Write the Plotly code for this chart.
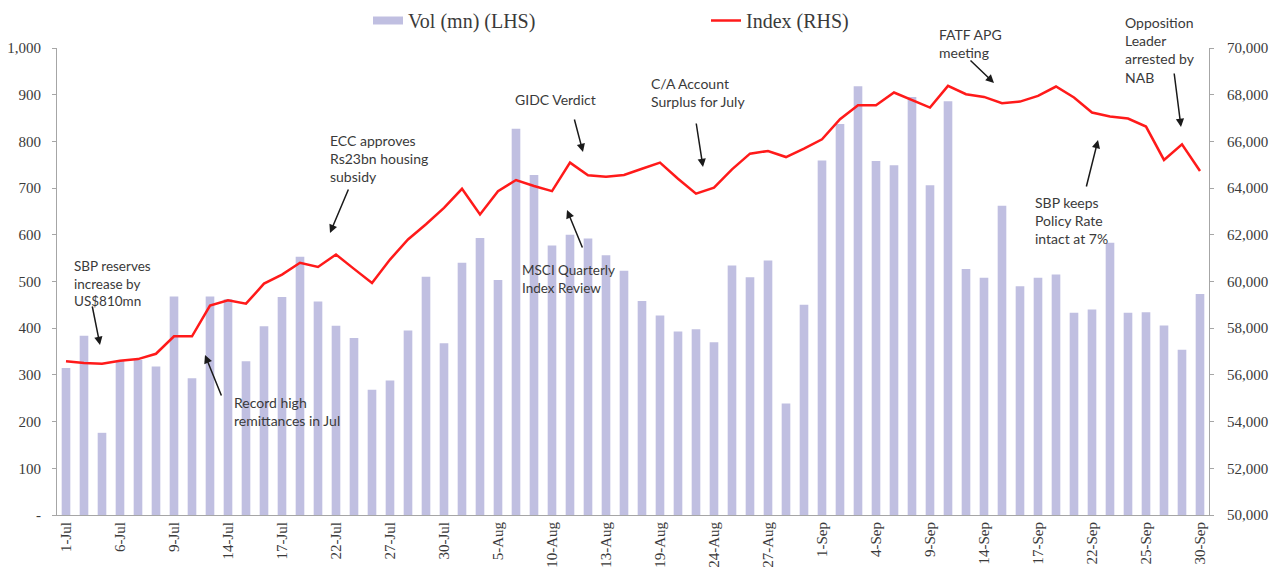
import plotly.graph_objects as go

dates = ["1-Jul","2-Jul","3-Jul","6-Jul","7-Jul","8-Jul","9-Jul","10-Jul","13-Jul","14-Jul","15-Jul",
         "16-Jul","17-Jul","20-Jul","21-Jul","22-Jul","23-Jul","24-Jul","27-Jul","28-Jul","29-Jul","30-Jul",
         "3-Aug","4-Aug","5-Aug","6-Aug","7-Aug","10-Aug","11-Aug","12-Aug","13-Aug","17-Aug","18-Aug",
         "19-Aug","20-Aug","21-Aug","24-Aug","25-Aug","26-Aug","27-Aug","28-Aug","31-Aug",
         "1-Sep","2-Sep","3-Sep","4-Sep","7-Sep","8-Sep","9-Sep","10-Sep","11-Sep","14-Sep","15-Sep",
         "16-Sep","17-Sep","18-Sep","21-Sep","22-Sep","23-Sep","24-Sep","25-Sep","28-Sep","29-Sep","30-Sep"]

volume = [315, 384, 176, 330, 332, 318, 468, 293, 468, 462, 329, 404, 467, 553, 457, 405, 379, 268, 288, 395, 510,
          368, 540, 593, 503, 827, 728, 577, 600, 592, 556, 523, 458, 427, 393, 398, 370, 534, 509, 545, 239, 450, 759, 837,
          918, 758, 749, 895, 706, 886, 527, 508, 662, 490, 508, 515, 433, 440, 583, 433, 434, 406, 354, 473]

index_vals = [56580, 56505, 56476, 56605, 56677, 56905, 57650, 57650, 58965, 59195, 59050, 59910, 60295, 60800,
              60625, 61155, 60540, 59940, 60940, 61800, 62450,
              63155, 63970, 62870, 63870, 64345, 64090, 63870, 65090, 64545, 64490, 64560, 64830, 65090, 64400,
              63760, 64015, 64800, 65475, 65590, 65330, 65690, 66090, 66950,
              67550, 67550, 68095, 67780, 67450, 68380, 68020, 67905, 67635, 67705, 67950, 68350, 67880, 67235,
              67065, 66980, 66635, 65205, 65875, 64730]

tick_dates = dates[::3]

left_ticks = [0, 100, 200, 300, 400, 500, 600, 700, 800, 900, 1000]
left_labels = ["-", "100", "200", "300", "400", "500", "600", "700", "800", "900", "1,000"]
right_ticks = [50000, 52000, 54000, 56000, 58000, 60000, 62000, 64000, 66000, 68000, 70000]
right_labels = ["50,000", "52,000", "54,000", "56,000", "58,000", "60,000", "62,000", "64,000",
                "66,000", "68,000", "70,000"]

# annotation texts: (lines, left px, vertical centre px, font size)  -- page pixels
notes = [
    (["SBP reserves", "increase by", "US$810mn"], 72, 283, 13.5),
    (["Record high", "remittances in Jul"], 232, 411, 14),
    (["ECC approves", "Rs23bn housing", "subsidy"], 328, 158, 14),
    (["GIDC Verdict"], 513, 99, 14),
    (["MSCI Quarterly", "Index Review"], 520, 279, 13.5),
    (["C/A Account", "Surplus for July"], 649, 92, 14),
    (["FATF APG", "meeting"], 937, 44, 14),
    (["SBP keeps", "Policy Rate", "intact at 7%"], 1033, 220, 14),
    (["Opposition", "Leader", "arrested by", "NAB"], 1123, 50, 14),
]
# arrows: (tail px, tail py, head px, head py) -- page pixels
arrows = [
    (92, 305, 100, 345),
    (222, 397, 205, 355),
    (349, 188, 330, 233),
    (574, 118, 583, 152),
    (583, 249, 567, 210),
    (696, 122, 703, 167),
    (969, 59, 994, 83),
    (1086, 188, 1098, 140),
    (1174, 72, 1181, 127),
]

OFF = 8  # page body margin
PAGE_W, PAGE_H = 1277, 567
L, R, T, B = 57, 1209, 48, 515  # plot area in page pixels
W, H = R - L, B - T
FIG_W, FIG_H = PAGE_W - OFF, PAGE_H - OFF


def paper(px, py):
    return (px - L) / W, (B - py) / H


BAR_COL = "#c0bfe1"
RED = "#ff1a1a"
SERIF = "Liberation Serif"
SANS = "Lato"
TXT = "#3a3a3a"

fig = go.Figure()
fig.add_trace(go.Bar(x=dates, y=volume, marker=dict(color=BAR_COL, line=dict(width=0)),
                     name="Vol (mn) (LHS)", showlegend=False, yaxis="y"))
fig.add_trace(go.Scatter(x=[None], y=[None], mode="lines", line=dict(color=BAR_COL, width=8),
                         name="Vol (mn) (LHS)", legend="legend"))
fig.add_trace(go.Scatter(x=dates, y=index_vals, mode="lines", line=dict(color=RED, width=2.5),
                         name="Index (RHS)", yaxis="y2", legend="legend2"))

annotations = []
for lines, px, py, fs in notes:
    x, y = paper(px, py)
    annotations.append(dict(x=x, y=y, xref="paper", yref="paper", text="<br>".join(lines),
                            showarrow=False, xanchor="left", yanchor="middle", align="left",
                            font=dict(family=SANS, size=fs, color=TXT)))
for tx, ty, hx, hy in arrows:
    x, y = paper(hx, hy)
    annotations.append(dict(x=x, y=y, xref="paper", yref="paper", text="", showarrow=True,
                            ax=tx - hx, ay=ty - hy, axref="pixel", ayref="pixel",
                            arrowhead=2, arrowsize=1.1, arrowwidth=1.5, arrowcolor="#1a1a1a",
                            standoff=0, startstandoff=0))

fig.update_layout(
    width=FIG_W, height=FIG_H,
    margin=dict(l=L - OFF, r=FIG_W - (R - OFF), t=T - OFF, b=FIG_H - (B - OFF), autoexpand=False),
    template="none",
    plot_bgcolor="white", paper_bgcolor="white",
    bargap=0.52,
    annotations=annotations,
    legend=dict(orientation="h", x=paper(368, 0)[0], y=paper(0, 1)[1], xanchor="left", yanchor="top",
                font=dict(family=SERIF, size=20, color=TXT), bgcolor="rgba(0,0,0,0)"),
    legend2=dict(orientation="h", x=paper(706, 0)[0], y=paper(0, 1)[1], xanchor="left", yanchor="top",
                 font=dict(family=SERIF, size=20, color=TXT), bgcolor="rgba(0,0,0,0)"),
    xaxis=dict(type="category", categoryorder="array", categoryarray=dates,
               tickmode="array", tickvals=tick_dates, ticktext=tick_dates, tickangle=-90,
               tickfont=dict(family=SERIF, size=15, color=TXT),
               showline=True, linecolor="#a6a6a6", linewidth=1, showgrid=False, zeroline=False,
               ticks="", automargin=False, range=[-0.5, len(dates) - 0.5]),
    yaxis=dict(range=[0, 1000], tickmode="array", tickvals=left_ticks, ticktext=left_labels,
               tickfont=dict(family=SERIF, size=15, color=TXT),
               showline=True, linecolor="#a6a6a6", linewidth=1, showgrid=False, zeroline=False,
               ticks="outside", ticklen=4, tickcolor="#a6a6a6", automargin=False,
               ticklabelstandoff=8),
    yaxis2=dict(range=[50000, 70000], overlaying="y", side="right", tickmode="array",
                tickvals=right_ticks, ticktext=right_labels,
                tickfont=dict(family=SERIF, size=15, color=TXT),
                showline=True, linecolor="#a6a6a6", linewidth=1, showgrid=False, zeroline=False,
                ticks="outside", ticklen=4, tickcolor="#a6a6a6", automargin=False,
                ticklabelstandoff=10),
)

fig.write_html("out.html")
